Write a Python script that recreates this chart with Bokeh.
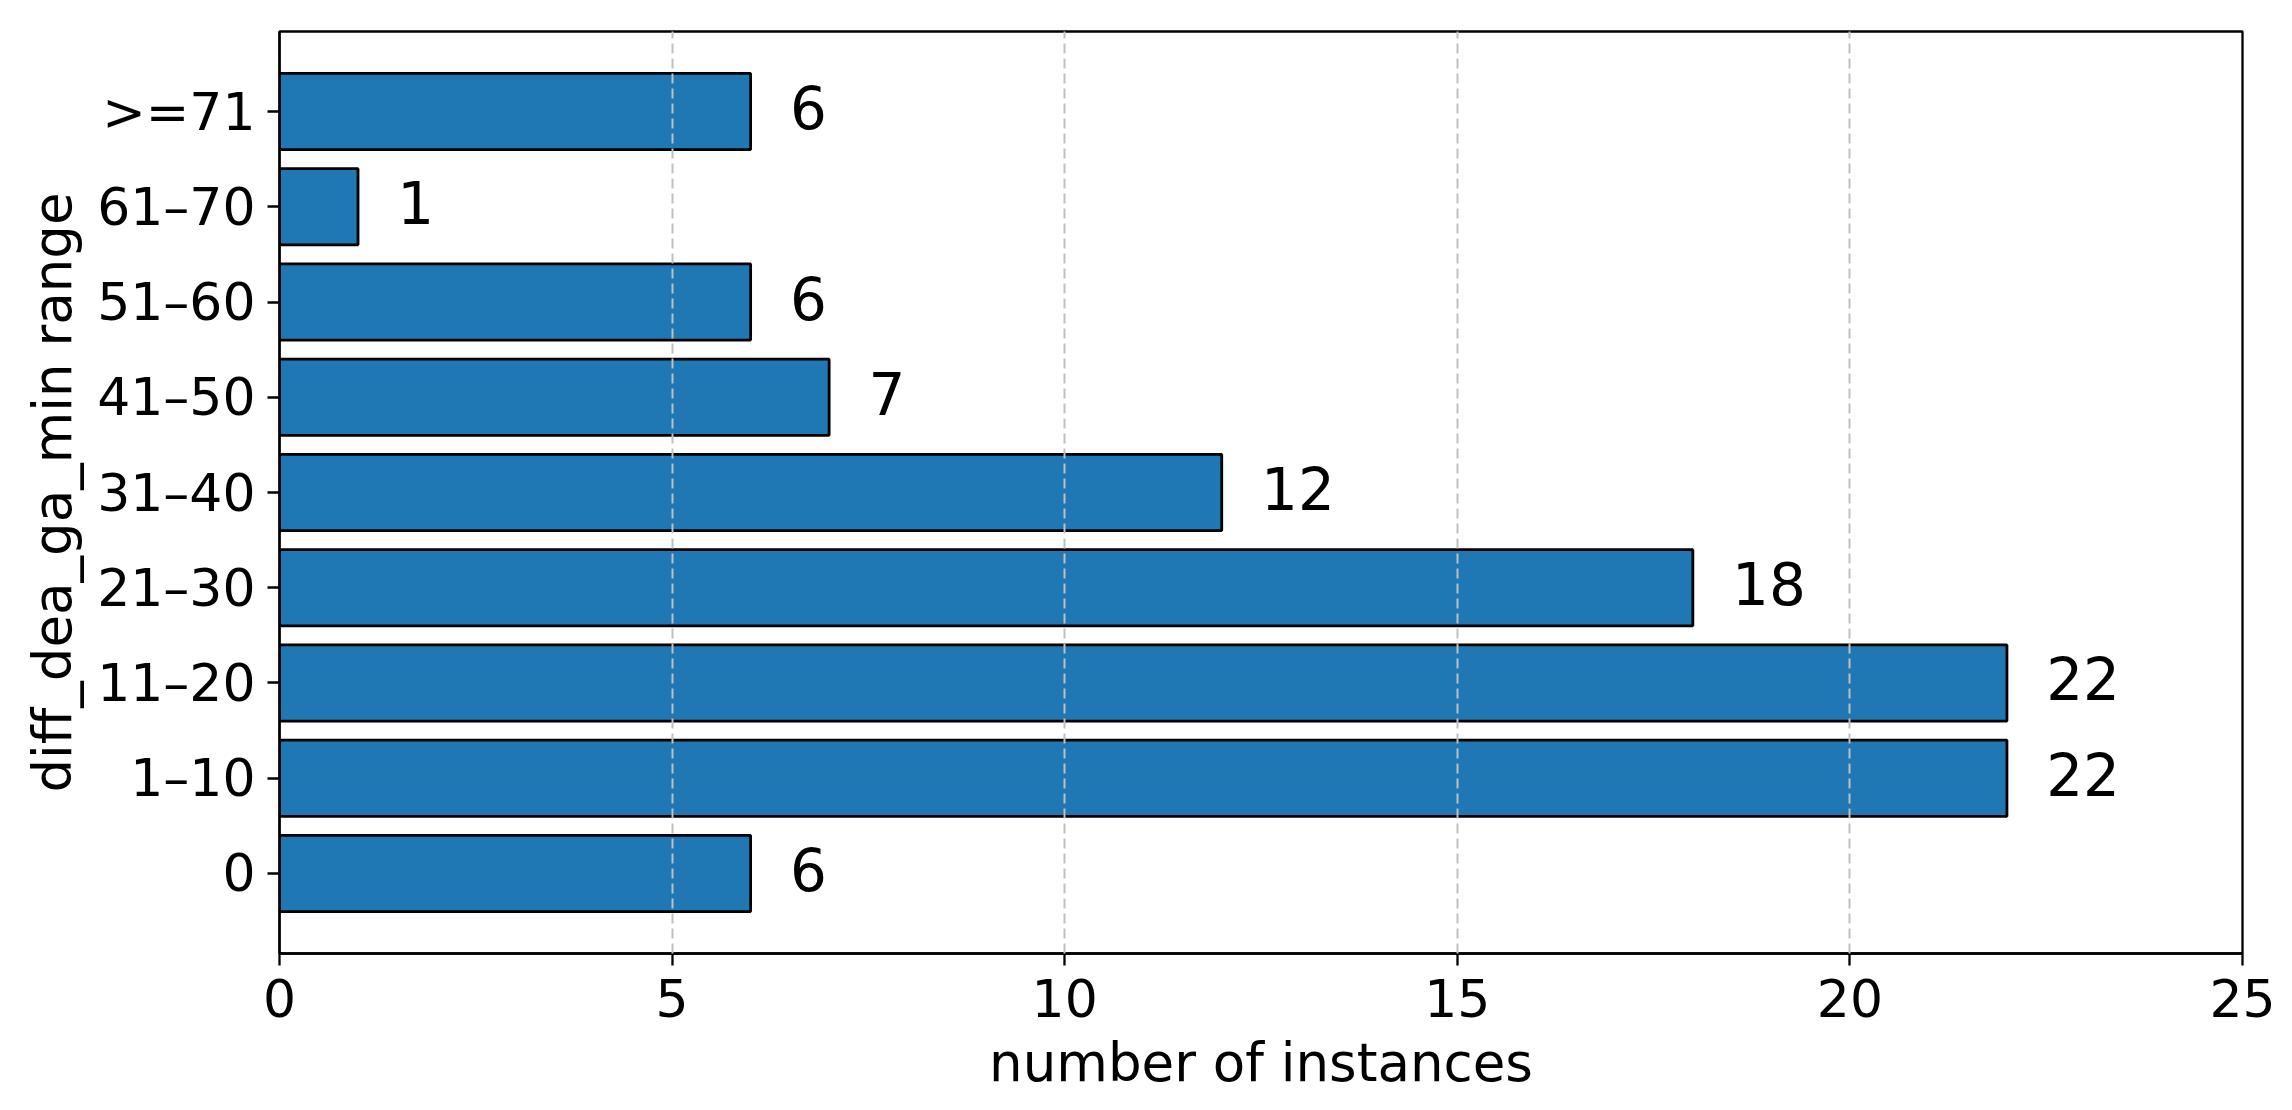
from bokeh.plotting import figure
from bokeh.models import Range1d, FixedTicker, ColumnDataSource
from bokeh.core.properties import value
from bokeh.embed import file_html
from bokeh.resources import INLINE

categories = ["0", "1\u201310", "11\u201320", "21\u201330", "31\u201340",
              "41\u201350", "51\u201360", "61\u201370", ">=71"]
counts = [6, 22, 22, 18, 12, 7, 6, 1, 6]
x_ticks = [0, 5, 10, 15, 20, 25]

FONT = "DejaVu Sans"
ypos = list(range(len(categories)))

src = ColumnDataSource(dict(
    y=ypos,
    right=counts,
    lx=[c + 0.5 for c in counts],
    lab=[str(c) for c in counts],
))

p = figure(width=2292, height=1110, output_backend="svg", toolbar_location=None,
           x_range=Range1d(0, 25), y_range=Range1d(-0.84, len(categories) - 1 + 0.84),
           min_border_left=279, min_border_right=50, min_border_top=31,
           min_border_bottom=157)

p.hbar(y="y", left=0, right="right", height=0.8, source=src,
       fill_color="#1f77b4", line_color="black", line_width=2.8)

p.text(x="lx", y="y", text="lab", source=src, text_align="left",
       text_baseline="middle", text_font=value(FONT), text_font_size="58px",
       text_color="black", y_offset=-4)

# grid
p.ygrid.grid_line_color = None
p.xgrid.ticker = FixedTicker(ticks=x_ticks)
p.xgrid.grid_line_color = "#c0c0c0"
p.xgrid.grid_line_dash = "10 5"
p.xgrid.grid_line_width = 2
p.xgrid.level = "overlay"

# axes
p.xaxis.ticker = FixedTicker(ticks=x_ticks)
p.yaxis.ticker = FixedTicker(ticks=ypos)
p.yaxis.major_label_overrides = {i: c for i, c in enumerate(categories)}

for ax in (p.xaxis[0], p.yaxis[0]):
    ax.axis_line_color = "black"
    ax.axis_line_width = 2.3
    ax.major_tick_line_color = "black"
    ax.major_tick_line_width = 2.3
    ax.major_tick_out = 12
    ax.major_tick_in = 0
    ax.minor_tick_line_color = None
    ax.major_label_text_font = FONT
    ax.major_label_text_font_size = "52px"
    ax.major_label_text_color = "black"
    ax.axis_label_text_font = FONT
    ax.axis_label_text_font_size = "53px"
    ax.axis_label_text_font_style = "normal"
    ax.axis_label_text_color = "black"

p.xaxis.axis_label = "number of instances"
p.yaxis.axis_label = "diff_dea_ga_min range"
p.xaxis.major_label_standoff = 13
p.yaxis.major_label_standoff = 12
p.xaxis.axis_label_standoff = 12
p.yaxis.axis_label_standoff = 11

p.outline_line_color = "black"
p.outline_line_width = 2.3
p.background_fill_color = "white"
p.border_fill_color = "white"

open("out.html", "w").write(file_html(p, INLINE))
